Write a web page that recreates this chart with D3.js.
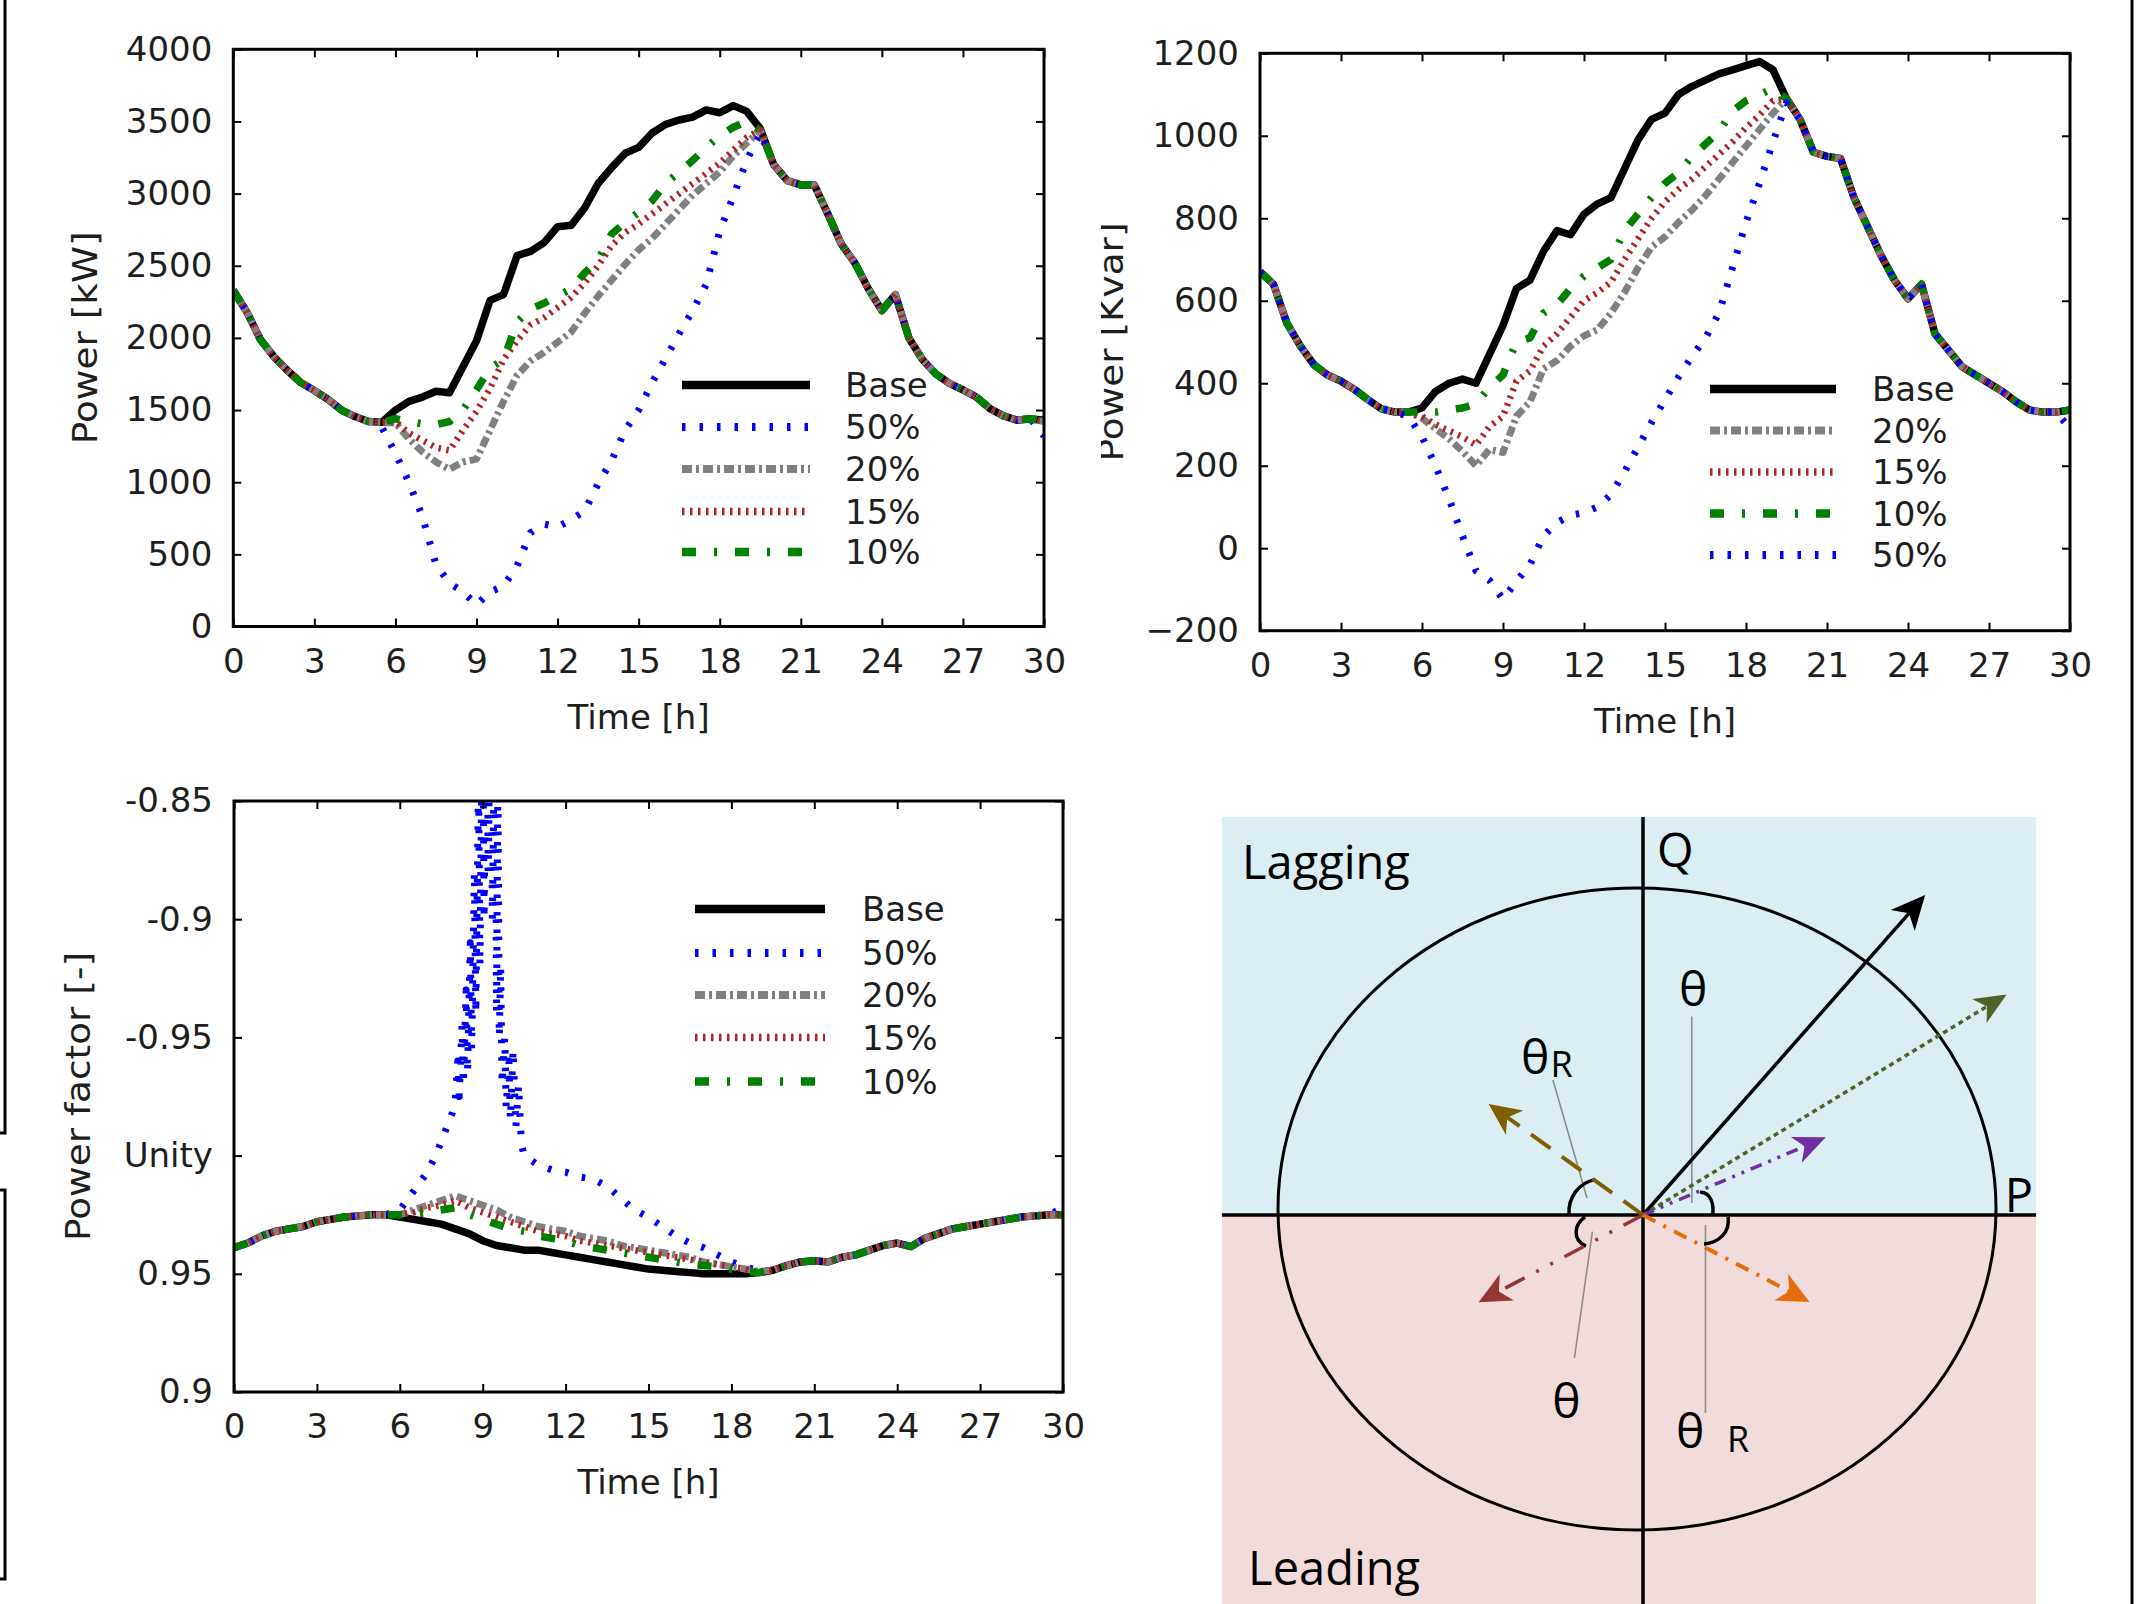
<!DOCTYPE html>
<html><head><meta charset="utf-8">
<script src="https://cdn.jsdelivr.net/npm/d3@7"></script>
<style>body{margin:0;background:#fff}</style>
</head><body>
<svg id="chart" width="2149" height="1604" xmlns="http://www.w3.org/2000/svg"></svg>
<script>
// ---------------- DATA ----------------
const hours = [0,0.5,1,1.5,2,2.5,3,3.5,4,4.5,5,5.5,6,6.5,7,7.5,8,8.5,9,9.5,10,10.5,11,11.5,12,12.5,13,13.5,14,14.5,15,15.5,16,16.5,17,17.5,18,18.5,19,19.5,20,20.5,21,21.5,22,22.5,23,23.5,24,24.5,25,25.5,26,26.5,27,27.5,28,28.5,29,29.5,30];
const xTicks = [0,3,6,9,12,15,18,21,24,27,30];

// Active power [kW]
const kwBase = [2330,2180,1990,1870,1775,1690,1635,1575,1500,1455,1420,1415,1500,1560,1590,1630,1620,1800,1980,2260,2300,2570,2600,2660,2770,2780,2900,3070,3180,3280,3320,3420,3480,3510,3530,3580,3560,3610,3570,3450,3200,3090,3060,3060,2860,2650,2520,2340,2190,2300,2000,1850,1750,1685,1640,1590,1510,1460,1430,1440,1430];
const kw50 = [2330,2180,1990,1870,1775,1690,1635,1575,1500,1455,1420,1380,1200,1000,760,430,300,240,150,240,280,420,650,710,690,740,800,990,1150,1360,1500,1690,1860,2030,2190,2370,2740,2980,3230,3420,3200,3090,3060,3060,2860,2650,2520,2340,2190,2300,2000,1850,1750,1685,1640,1590,1510,1460,1430,1440,1320];
const kw20 = [2330,2180,1990,1870,1775,1690,1635,1575,1500,1455,1420,1415,1410,1300,1210,1140,1090,1140,1160,1360,1560,1740,1840,1900,1970,2040,2170,2290,2400,2510,2610,2690,2790,2890,2990,3070,3150,3260,3350,3440,3200,3090,3060,3060,2860,2650,2520,2340,2190,2300,2000,1850,1750,1685,1640,1590,1510,1460,1430,1440,1420];
const kw15 = [2330,2180,1990,1870,1775,1690,1635,1575,1500,1455,1420,1415,1420,1340,1290,1240,1220,1360,1490,1650,1850,1980,2090,2140,2210,2280,2380,2500,2640,2730,2790,2860,2930,3000,3070,3140,3210,3300,3390,3440,3200,3090,3060,3060,2860,2650,2520,2340,2190,2300,2000,1850,1750,1685,1640,1590,1510,1460,1430,1440,1420];
const kw10 = [2330,2180,1990,1870,1775,1690,1635,1575,1500,1455,1420,1415,1440,1420,1405,1400,1420,1500,1640,1790,1850,2110,2200,2240,2290,2340,2450,2540,2720,2800,2870,2950,3070,3150,3230,3320,3400,3460,3500,3440,3200,3090,3060,3060,2860,2650,2520,2340,2190,2300,2000,1850,1750,1685,1640,1590,1510,1460,1430,1440,1420];
const kwTicks = [0,500,1000,1500,2000,2500,3000,3500,4000];
const kwTickLabels = ['0','500','1000','1500','2000','2500','3000','3500','4000'];

// Reactive power [kvar]
const kvarBase = [670,640,545,490,445,420,405,385,360,338,330,330,340,380,400,410,400,470,540,630,650,720,770,760,810,835,850,920,990,1040,1055,1100,1120,1135,1150,1160,1170,1180,1160,1090,1040,960,950,945,850,780,710,650,605,640,520,480,440,420,400,380,355,335,330,330,335];
const kvar20 = [670,640,545,490,445,420,405,385,360,338,330,330,315,290,265,235,200,240,232,320,355,435,455,490,515,530,570,620,680,730,755,790,820,855,895,935,975,1015,1055,1090,1040,960,950,945,850,780,710,650,605,640,520,480,440,420,400,380,355,335,330,330,335];
const kvar15 = [670,640,545,490,445,420,405,385,360,338,330,330,320,300,285,270,250,295,320,405,430,490,520,560,600,620,645,700,750,800,840,870,895,925,955,985,1020,1050,1085,1090,1040,960,950,945,850,780,710,650,605,640,520,480,440,420,400,380,355,335,330,330,335];
const kvar10 = [670,640,545,490,445,420,405,385,360,338,330,330,330,330,335,340,350,390,420,500,510,570,590,630,660,680,700,770,810,850,885,910,950,980,1010,1060,1085,1100,1115,1090,1040,960,950,945,850,780,710,650,605,640,520,480,440,420,400,380,355,335,330,330,335];
const kvar50 = [670,640,545,490,445,420,405,385,360,338,330,320,270,200,120,30,-55,-78,-124,-80,-40,30,62,80,86,100,130,185,245,305,360,415,465,510,570,680,790,885,985,1080,1040,960,950,945,850,780,710,650,605,640,520,480,440,420,400,380,355,335,330,330,290];
const kvarTicks = [-200,0,200,400,600,800,1000,1200];
const kvarTickLabels = ['\u2212200','0','200','400','600','800','1000','1200'];

// Power factor [-] (negative = leading, drawn above "Unity")
const pfBase = [0.961,0.963,0.966,0.968,0.969,0.970,0.972,0.973,0.974,0.9745,0.975,0.975,0.974,0.973,0.972,0.971,0.969,0.967,0.964,0.962,0.961,0.960,0.960,0.959,0.958,0.957,0.956,0.955,0.954,0.953,0.952,0.9515,0.951,0.9505,0.950,0.950,0.950,0.950,0.9505,0.9515,0.9535,0.955,0.9555,0.955,0.957,0.958,0.960,0.962,0.963,0.9615,0.965,0.967,0.969,0.970,0.971,0.972,0.973,0.974,0.9745,0.975,0.975];
const pf20 = [0.961,0.963,0.966,0.968,0.969,0.970,0.972,0.973,0.974,0.9745,0.975,0.975,0.975,0.977,0.979,0.981,0.983,0.981,0.979,0.977,0.974,0.972,0.970,0.969,0.968,0.966,0.965,0.964,0.962,0.961,0.960,0.959,0.958,0.957,0.955,0.954,0.953,0.952,0.951,0.9515,0.9535,0.955,0.9555,0.955,0.957,0.958,0.960,0.962,0.963,0.9615,0.965,0.967,0.969,0.970,0.971,0.972,0.973,0.974,0.9745,0.975,0.975];
const pf15 = [0.961,0.963,0.966,0.968,0.969,0.970,0.972,0.973,0.974,0.9745,0.975,0.975,0.975,0.976,0.978,0.979,0.981,0.978,0.976,0.974,0.972,0.970,0.968,0.967,0.966,0.964,0.963,0.962,0.961,0.960,0.959,0.958,0.957,0.956,0.955,0.954,0.953,0.952,0.9505,0.9515,0.9535,0.955,0.9555,0.955,0.957,0.958,0.960,0.962,0.963,0.9615,0.965,0.967,0.969,0.970,0.971,0.972,0.973,0.974,0.9745,0.975,0.975];
const pf10 = [0.961,0.963,0.966,0.968,0.969,0.970,0.972,0.973,0.974,0.9745,0.975,0.975,0.975,0.975,0.976,0.977,0.978,0.975,0.973,0.971,0.969,0.968,0.966,0.965,0.964,0.962,0.961,0.960,0.959,0.958,0.957,0.956,0.955,0.954,0.9535,0.953,0.952,0.951,0.9505,0.9515,0.9535,0.955,0.9555,0.955,0.957,0.958,0.960,0.962,0.963,0.9615,0.965,0.967,0.969,0.970,0.971,0.972,0.973,0.974,0.9745,0.975,0.975];
const pf50Hours = [0,0.5,1,1.5,2,2.5,3,3.5,4,4.5,5,5.5,6,6.5,7,7.3,7.5,7.7,7.9,8,8.1,8.15,8.25,8.3,8.4,8.45,8.55,8.6,8.7,8.75,8.85,8.9,9,9.05,9.15,9.2,9.3,9.35,9.45,9.5,9.55,9.6,9.65,9.7,9.8,9.85,9.95,10,10.1,10.2,10.3,10.4,10.5,11,11.5,12,12.5,13,13.5,14,14.5,15,15.5,16,16.5,17,17.5,18,18.5,19,19.5,20,20.5,21,21.5,22,22.5,23,23.5,24,24.5,25,25.5,26,26.5,27,27.5,28,28.5,29,29.5,30];
const pf50 = [0.961,0.963,0.966,0.968,0.969,0.970,0.972,0.973,0.974,0.9745,0.975,0.975,0.977,0.985,0.993,1.0,-0.994,-0.988,-0.982,-0.978,-0.96,-0.975,-0.945,-0.97,-0.93,-0.965,-0.91,-0.955,-0.88,-0.94,-0.84,-0.92,-0.8,-0.9,-0.78,-0.88,-0.78,-0.9,-0.8,-0.94,-0.84,-0.95,-0.92,-0.97,-0.95,-0.98,-0.96,-0.985,-0.955,-0.988,-0.97,-0.995,1.0,0.996,0.994,0.993,0.991,0.990,0.987,0.982,0.977,0.974,0.970,0.966,0.963,0.961,0.958,0.955,0.953,0.951,0.9515,0.9535,0.955,0.9555,0.955,0.957,0.958,0.960,0.962,0.963,0.9615,0.965,0.967,0.969,0.970,0.971,0.972,0.973,0.974,0.9745,0.975,0.978];
const pfTicks = [0.9,0.95,1,-0.95,-0.9,-0.85];
const pfTickLabels = ['0.9','0.95','Unity','-0.95','-0.9','-0.85'];

// Phasor diagram (units of circle radius, origin at P/Q axes crossing)
const phasors = [
  {p:0.786, q:0.997, color:'#000000', dash:null, width:3.5, L:34, W:16},
  {p:1.013, q:0.687, color:'#4F6228', dash:'5,4', width:3.5, L:32, W:14},
  {p:0.509, q:0.242, color:'#7030A0', dash:'12,7,3,7,3,7', width:3.5, L:32, W:14},
  {p:-0.430, q:0.346, color:'#7F6000', dash:'24,14', width:4, L:32, W:15},
  {p:-0.458, q:-0.272, color:'#953735', dash:'22,13,3,13,3,13', width:3.5, L:32, W:15},
  {p:0.464, q:-0.271, color:'#E46C0A', dash:'14,9,3,9', width:4, L:32, W:15}
];

// ---------------- DRAWING ----------------
const svg = d3.select('#chart');
const FONT = '"DejaVu Sans", Verdana, sans-serif';
const TXT = '#1e1e1e';

const styles = {
  base: {color:'#000000', width:7.5, dash:null},
  p50:  {color:'#0000ff', width:7, dash:'3.5,14'},
  p20:  {color:'#808080', width:7, dash:'10,4,3,4'},
  p15:  {color:'#b22222', width:6.5, dash:'2.5,5.5'},
  p10:  {color:'#008000', width:7.5, dash:'14,18,3,18'}
};

function plot(cfg){
  const x = d3.scaleLinear().domain([0,30]).range([cfg.left, cfg.right]);
  const y = d3.scaleLinear().domain(cfg.yDomain).range([cfg.bottom, cfg.top]);
  const yv = v => y(cfg.map ? cfg.map(v) : v);
  const id = 'clip-' + cfg.name;
  svg.append('clipPath').attr('id', id).append('rect')
    .attr('x', cfg.left).attr('y', cfg.top)
    .attr('width', cfg.right - cfg.left).attr('height', cfg.bottom - cfg.top);
  const gl = svg.append('g').attr('clip-path', `url(#${id})`);
  const line = d3.line().x(d => x(d[0])).y(d => yv(d[1]));
  cfg.series.forEach(s => {
    gl.append('path').datum(s.t.map((t,i) => [t, s.v[i]]))
      .attr('d', line).attr('fill','none')
      .attr('stroke', s.style.color).attr('stroke-width', s.style.width)
      .attr('stroke-dasharray', s.style.dash).attr('stroke-linejoin','round');
  });
  const tickVals = cfg.yTicks.map(v => cfg.map ? cfg.map(v) : v);
  const styleAxis = g => {
    g.select('.domain').remove();
    g.attr('font-size', 34).attr('font-family', FONT).attr('color', '#000');
    g.selectAll('line').attr('stroke-width', 2);
    g.selectAll('text').attr('fill', TXT);
  };
  svg.append('g').attr('transform', `translate(0,${cfg.bottom})`)
    .call(d3.axisBottom(x).tickValues(xTicks).tickSize(-8).tickPadding(22)).call(styleAxis);
  svg.append('g').attr('transform', `translate(0,${cfg.top})`)
    .call(d3.axisTop(x).tickValues(xTicks).tickSize(-8).tickFormat('')).call(styleAxis);
  svg.append('g').attr('transform', `translate(${cfg.left},0)`)
    .call(d3.axisLeft(y).tickValues(tickVals).tickSize(-8).tickPadding(21)
      .tickFormat((d,i) => cfg.yLabels[i])).call(styleAxis);
  svg.append('g').attr('transform', `translate(${cfg.right},0)`)
    .call(d3.axisRight(y).tickValues(tickVals).tickSize(-8).tickFormat('')).call(styleAxis);
  svg.append('rect').attr('x', cfg.left).attr('y', cfg.top)
    .attr('width', cfg.right - cfg.left).attr('height', cfg.bottom - cfg.top)
    .attr('fill','none').attr('stroke','#000').attr('stroke-width', 3);
  // axis titles
  svg.append('text').attr('x', (cfg.left + cfg.right)/2).attr('y', cfg.bottom + 102)
    .attr('text-anchor','middle').attr('font-family', FONT).attr('font-size', 34)
    .attr('fill', TXT).text('Time [h]');
  let ylHost = svg;
  if (cfg.ylabClip !== undefined) {
    const cid = 'clipyl-' + cfg.name;
    svg.append('clipPath').attr('id', cid).append('rect')
      .attr('x', cfg.ylabClip).attr('y', 0).attr('width', 400).attr('height', 1604);
    ylHost = svg.append('g').attr('clip-path', `url(#${cid})`);
  }
  ylHost.append('text')
    .attr('transform', `translate(${cfg.ylabX},${(cfg.top + cfg.bottom)/2}) scale(1,1.1) rotate(-90)`)
    .attr('text-anchor','middle').attr('font-family', FONT).attr('font-size', 34)
    .attr('fill', TXT).text(cfg.ylabel);
  // legend
  cfg.legend.forEach((e, i) => {
    const ry = cfg.leg.rows[i];
    svg.append('line').attr('x1', cfg.leg.x0).attr('x2', cfg.leg.x1)
      .attr('y1', ry).attr('y2', ry)
      .attr('stroke', e.style.color).attr('stroke-width', e.style.width + 1)
      .attr('stroke-dasharray', e.style.dash);
    svg.append('text').attr('x', cfg.leg.tx).attr('y', ry + 12)
      .attr('font-family', FONT).attr('font-size', 34).attr('fill', TXT).text(e.label);
  });
}

// Top-left: active power
plot({
  name:'kw', left:233.3, right:1044, top:49.3, bottom:626.5,
  yDomain:[0,4000], yTicks:kwTicks, yLabels:kwTickLabels,
  ylabel:'Power [kW]', ylabX:97,
  series:[
    {t:hours, v:kwBase, style:styles.base},
    {t:hours, v:kw50, style:styles.p50},
    {t:hours, v:kw20, style:styles.p20},
    {t:hours, v:kw15, style:styles.p15},
    {t:hours, v:kw10, style:styles.p10}
  ],
  legend:[
    {label:'Base', style:styles.base},
    {label:'50%', style:styles.p50},
    {label:'20%', style:styles.p20},
    {label:'15%', style:styles.p15},
    {label:'10%', style:styles.p10}
  ],
  leg:{x0:682, x1:810, tx:845, rows:[385,427,469,511.5,552]}
});

// Top-right: reactive power
plot({
  name:'kvar', left:1260, right:2070, top:53.3, bottom:630.7,
  yDomain:[-200,1200], yTicks:kvarTicks, yLabels:kvarTickLabels,
  ylabel:'Power [Kvar]', ylabX:1123, ylabClip:1101,
  series:[
    {t:hours, v:kvarBase, style:styles.base},
    {t:hours, v:kvar20, style:styles.p20},
    {t:hours, v:kvar15, style:styles.p15},
    {t:hours, v:kvar10, style:styles.p10},
    {t:hours, v:kvar50, style:styles.p50}
  ],
  legend:[
    {label:'Base', style:styles.base},
    {label:'20%', style:styles.p20},
    {label:'15%', style:styles.p15},
    {label:'10%', style:styles.p10},
    {label:'50%', style:styles.p50}
  ],
  leg:{x0:1710, x1:1836, tx:1872, rows:[389,430.5,472,513.5,555]}
});

// Bottom-left: power factor
plot({
  name:'pf', left:234, right:1063, top:801, bottom:1392,
  yDomain:[0.9,1.15], yTicks:pfTicks, yLabels:pfTickLabels,
  map: v => v < 0 ? 2 + v : v,
  ylabel:'Power factor [-]', ylabX:90,
  series:[
    {t:hours, v:pfBase, style:styles.base},
    {t:pf50Hours, v:pf50, style:styles.p50},
    {t:hours, v:pf20, style:styles.p20},
    {t:hours, v:pf15, style:styles.p15},
    {t:hours, v:pf10, style:styles.p10}
  ],
  legend:[
    {label:'Base', style:styles.base},
    {label:'50%', style:styles.p50},
    {label:'20%', style:styles.p20},
    {label:'15%', style:styles.p15},
    {label:'10%', style:styles.p10}
  ],
  leg:{x0:695, x1:825, tx:862, rows:[909,953,995,1037.5,1081.5]}
});

// ---------------- Phasor diagram ----------------
const sp = d3.scaleLinear().domain([0,1]).range([1643, 2002]);
const sq = d3.scaleLinear().domain([0,1]).range([1215, 894]);
const DFONT = '"Open Sans", "Noto Sans", sans-serif';
const dg = svg.append('g');
// regions
dg.append('rect').attr('x', sp(-1.173)).attr('y', sq(1.240))
  .attr('width', sp(1.095) - sp(-1.173)).attr('height', sq(0) - sq(1.240)).attr('fill', '#DAEEF3');
dg.append('rect').attr('x', sp(-1.173)).attr('y', sq(0))
  .attr('width', sp(1.095) - sp(-1.173)).attr('height', sq(-1.212) - sq(0)).attr('fill', '#F2DCDB');
// circle
dg.append('ellipse').attr('cx', sp(-0.0167)).attr('cy', sq(0.0187))
  .attr('rx', sp(1) - sp(0)).attr('ry', sq(0) - sq(1))
  .attr('fill','none').attr('stroke','#000').attr('stroke-width', 3);
// axes
dg.append('line').attr('x1', sp(-1.173)).attr('x2', sp(1.095)).attr('y1', sq(0)).attr('y2', sq(0))
  .attr('stroke','#000').attr('stroke-width', 3.5);
dg.append('line').attr('x1', sp(0)).attr('x2', sp(0)).attr('y1', sq(1.240)).attr('y2', sq(-1.212))
  .attr('stroke','#000').attr('stroke-width', 3.5);
// leader lines
const leaders = [[0.136,0.618,0.136,0.037],[-0.251,0.421,-0.156,0.053],[-0.141,-0.052,-0.191,-0.445],[0.174,-0.031,0.174,-0.617]];
leaders.forEach(l => dg.append('line').attr('x1', sp(l[0])).attr('y1', sq(l[1])).attr('x2', sp(l[2])).attr('y2', sq(l[3]))
  .attr('stroke','#8c8c8c').attr('stroke-width', 1.6));
// angle arcs (cubic curves)
const arcs = [
  [[-0.133,0.111],[-0.180,0.100],[-0.210,0.053],[-0.206,0]],
  [[-0.161,-0.006],[-0.192,-0.028],[-0.198,-0.078],[-0.159,-0.097]],
  [[0.159,0.071],[0.190,0.072],[0.198,0.030],[0.194,0]],
  [[0.237,-0.006],[0.243,-0.053],[0.212,-0.086],[0.170,-0.090]]
];
arcs.forEach(a => {
  const P = a.map(d => [sp(d[0]), sq(d[1])]);
  dg.append('path').attr('d', `M${P[0]}C${P[1]} ${P[2]} ${P[3]}`)
    .attr('fill','none').attr('stroke','#000').attr('stroke-width', 3.5);
});
// vectors
phasors.forEach(v => {
  const x0 = sp(0), y0 = sq(0), x1 = sp(v.p), y1 = sq(v.q);
  const len = Math.hypot(x1 - x0, y1 - y0);
  const ux = (x1 - x0)/len, uy = (y1 - y0)/len, nx = -uy, ny = ux;
  const bx = x1 - ux*v.L, by = y1 - uy*v.L;
  const kx = x1 - ux*v.L*0.72, ky = y1 - uy*v.L*0.72;
  dg.append('line').attr('x1', x0).attr('y1', y0).attr('x2', kx).attr('y2', ky)
    .attr('stroke', v.color).attr('stroke-width', v.width).attr('stroke-dasharray', v.dash);
  dg.append('path')
    .attr('d', `M${x1},${y1}L${bx + nx*v.W},${by + ny*v.W}L${kx},${ky}L${bx - nx*v.W},${by - ny*v.W}Z`)
    .attr('fill', v.color);
});
// labels
const dlabels = [
  {t:'Lagging', p:-1.117, q:1.047, s:47},
  {t:'Q', p:0.039, q:1.084, s:47},
  {t:'P', p:1.008, q:0.009, s:47},
  {t:'Leading', p:-1.100, q:-1.153, s:47},
  {t:'\u03B8', p:0.100, q:0.651, s:48},
  {t:'\u03B8', p:-0.340, q:0.439, s:48},
  {t:'R', p:-0.258, q:0.430, s:36},
  {t:'\u03B8', p:-0.253, q:-0.632, s:48},
  {t:'\u03B8', p:0.092, q:-0.726, s:48},
  {t:'R', p:0.234, q:-0.738, s:36}
];
dlabels.forEach(d => dg.append('text').attr('x', sp(d.p)).attr('y', sq(d.q))
  .attr('font-family', DFONT).attr('font-size', d.s).attr('fill', '#000').text(d.t));

// panel edges from neighbouring figures
svg.append('path').attr('d', 'M0,1133H5V0').attr('fill','none').attr('stroke','#000').attr('stroke-width', 3);
svg.append('path').attr('d', 'M0,1190H5V1579H0').attr('fill','none').attr('stroke','#000').attr('stroke-width', 3);
svg.append('line').attr('x1', 2132).attr('x2', 2132).attr('y1', 0).attr('y2', 1604)
  .attr('stroke','#000').attr('stroke-width', 3);
</script>
</body></html>
